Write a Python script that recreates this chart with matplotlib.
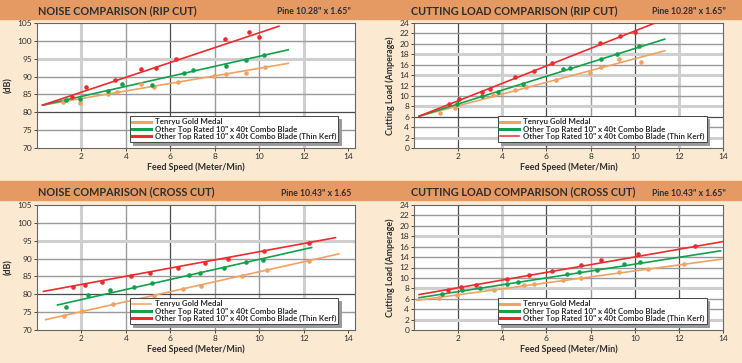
import matplotlib
matplotlib.use("Agg")
import matplotlib.pyplot as plt
from matplotlib.patches import Rectangle
from matplotlib.lines import Line2D

plt.rcParams["font.family"] = ["Lato", "DejaVu Sans"]

# ---- data ----
LABELS = ["Tenryu Gold Medal",
          "Other Top Rated 10\" x 40t Combo Blade",
          "Other Top Rated 10\" x 40t Combo Blade (Thin Kerf)"]

# noise, rip cut
nr_tenryu_x = [1.19, 1.93, 3.18, 3.59, 4.68, 5.27, 6.35, 7.94, 8.48, 9.39, 10.25]
nr_tenryu_y = [83.0, 82.5, 85.0, 85.6, 88.0, 87.0, 88.6, 90.1, 90.6, 91.0, 92.6]
nr_other_x = [1.30, 1.93, 3.18, 3.83, 5.15, 6.60, 7.00, 8.48, 9.39, 10.20]
nr_other_y = [83.5, 83.8, 86.1, 88.0, 87.6, 91.0, 91.8, 93.1, 94.6, 96.0]
nr_thin_x = [1.57, 2.19, 3.52, 4.68, 5.33, 6.26, 8.47, 9.52, 9.98]
nr_thin_y = [84.2, 87.0, 89.0, 92.0, 92.5, 95.0, 100.5, 102.5, 101.0]
nr_fit = {"tenryu": ([0.25, 11.3], [82.0, 93.7]),
          "other": ([0.25, 11.3], [82.0, 97.5]),
          "thin": ([0.25, 10.88], [82.0, 104.1])}

# cutting load, rip cut
lr_tenryu_x = [1.18, 1.86, 3.56, 4.57, 5.08, 6.44, 7.98, 8.45, 9.27, 10.27]
lr_tenryu_y = [6.8, 7.7, 10.1, 11.1, 11.7, 13.1, 14.4, 15.5, 17.1, 16.5]
lr_other_x = [1.94, 3.08, 3.79, 4.95, 6.76, 7.06, 8.45, 9.21, 10.21]
lr_other_y = [8.5, 10.0, 10.8, 12.3, 15.1, 15.3, 17.1, 18.1, 19.6]
lr_thin_x = [1.59, 2.05, 3.08, 3.45, 4.57, 5.45, 6.26, 8.42, 9.32, 10.0]
lr_thin_y = [8.36, 9.33, 10.8, 11.25, 13.6, 14.8, 16.3, 20.1, 21.55, 22.3]
lr_fit = {"tenryu": ([0.23, 11.36], [6.1, 18.66]),
          "other": ([0.23, 11.36], [6.1, 20.9]),
          "thin": ([0.23, 10.98], [6.1, 24.1])}

# noise, cross cut
nc_tenryu_x = [1.22, 2.02, 3.44, 4.74, 5.25, 6.58, 7.38, 9.22, 10.35, 12.24]
nc_tenryu_y = [74.0, 75.4, 77.2, 78.7, 79.6, 81.4, 82.4, 85.2, 86.8, 89.3]
nc_other_x = [1.30, 2.31, 3.29, 4.36, 5.15, 6.85, 7.34, 8.42, 9.39, 10.16]
nc_other_y = [76.4, 79.7, 81.3, 82.0, 83.2, 85.4, 86.1, 87.4, 89.0, 89.6]
nc_thin_x = [1.60, 2.16, 2.93, 4.24, 5.09, 6.35, 7.56, 8.57, 10.23, 12.21]
nc_thin_y = [82.1, 82.5, 83.4, 85.2, 86.1, 87.4, 88.9, 89.9, 92.0, 94.4]
nc_fit = {"tenryu": ([0.39, 13.57], [72.9, 91.3]),
          "other": ([0.92, 12.35], [77.0, 93.1]),
          "thin": ([0.29, 13.42], [80.8, 95.85])}

# cutting load, cross cut
lc_tenryu_x = [1.14, 1.97, 3.64, 5.0, 5.45, 6.77, 7.58, 9.29, 10.6, 12.24]
lc_tenryu_y = [6.2, 6.7, 7.7, 8.6, 8.8, 9.6, 10.05, 11.1, 11.8, 12.74]
lc_other_x = [1.26, 2.17, 3.0, 4.21, 4.73, 6.92, 7.47, 8.27, 9.52, 10.24]
lc_other_y = [6.85, 7.7, 8.1, 8.8, 9.2, 10.75, 11.2, 11.6, 12.6, 13.1]
lc_thin_x = [1.56, 2.15, 2.8, 4.2, 5.23, 6.26, 7.58, 8.48, 10.15, 12.73]
lc_thin_y = [7.74, 8.3, 8.7, 9.7, 10.6, 11.4, 12.4, 13.4, 14.6, 16.1]
lc_fit = {"tenryu": ([0.15, 13.94], [5.7, 13.6]),
          "other": ([0.23, 13.89], [6.2, 15.2]),
          "thin": ([0.23, 13.98], [6.8, 16.96])}

COL = {"tenryu": "#f0a263", "other": "#12a04b", "thin": "#ec2b2d"}
BG = "#fce9d2"
BAR = "#e59a64"
TXT = "#2e2e2e"

GRID = {"d": ("#4a4a4a", 0.9), "m": ("#9a9a9a", 1.0), "l": ("#cfcfcf", 2.2)}


def panel(ax, pts, fit, ylim, yticks, xgrid, ygrid, ylabel, leg_lw, xmax):
    ax.set_facecolor("white")
    for v, s in zip(range(2, 14, 2), xgrid):
        c, w = GRID[s]
        ax.axvline(v, color=c, lw=w, zorder=0)
    for v, s in zip(yticks[1:-1], ygrid):
        c, w = GRID[s]
        ax.axhline(v, color=c, lw=w, zorder=0)
    for key in ["tenryu", "other", "thin"]:
        fx, fy = fit[key]
        ax.plot(fx, fy, color=COL[key], lw=1.2, zorder=2)
        px, py = pts[key]
        ax.plot(px, py, "o", color=COL[key], ms=3.3, mec="none", zorder=3)
    ax.set_xlim(0, xmax)
    ax.set_ylim(*ylim)
    ax.set_xticks(range(2, 15, 2))
    ax.set_yticks(yticks)
    ax.tick_params(labelsize=6, length=2, width=0.6, pad=1.5, colors=TXT)
    for sp in ax.spines.values():
        sp.set_color("#666666")
        sp.set_linewidth(0.8)
    ax.set_xlabel("Feed Speed (Meter/Min)", fontsize=6.4, fontweight="bold",
                  color=TXT, labelpad=2)
    ax.set_ylabel(ylabel, fontsize=6.4, fontweight="bold", color=TXT,
                  labelpad=3)
    handles = [Line2D([], [], color=COL[k], lw=w)
               for k, w in zip(["tenryu", "other", "thin"], leg_lw)]
    leg = ax.legend(handles, LABELS, loc="lower right",
                    bbox_to_anchor=(0.947, 0.045),
                    prop={"size": 5.7, "weight": "bold"},
                    handlelength=2.4, handletextpad=0.5, labelspacing=0.05,
                    borderpad=0.25, borderaxespad=0, fancybox=False,
                    framealpha=1, edgecolor="#444444",
                    shadow={"color": "#9a9a9a", "alpha": 1})
    leg.get_frame().set_linewidth(0.7)
    for t in leg.get_texts():
        t.set_color(TXT)


fig = plt.figure(figsize=(7.42, 3.63), dpi=100)
fig.patch.set_facecolor(BG)

H = 363.0
W = 742.0
for top in (0, 181):
    fig.patches.append(Rectangle((0, 1 - (top + 19) / H), 1, 19 / H,
                                 transform=fig.transFigure,
                                 color=BAR, zorder=0))

ax_w_l = (355 - 37) / W
ax_w_r = (723 - 414) / W
ax_h = 125 / H
ax1 = fig.add_axes([37 / W, 1 - 148 / H, ax_w_l, ax_h])
ax2 = fig.add_axes([414 / W, 1 - 148 / H, ax_w_r, ax_h])
ax3 = fig.add_axes([37 / W, 1 - 330 / H, ax_w_l, ax_h])
ax4 = fig.add_axes([414 / W, 1 - 330 / H, ax_w_r, ax_h])

noise_ticks = list(range(70, 106, 5))
load_ticks = list(range(0, 25, 2))

panel(ax1,
      {"tenryu": (nr_tenryu_x, nr_tenryu_y), "other": (nr_other_x, nr_other_y),
       "thin": (nr_thin_x, nr_thin_y)},
      nr_fit, (70, 105), noise_ticks,
      "lmdmml", "mdmmlm", "(dB)", [2.2, 2.2, 2.2], 14.3)
panel(ax2,
      {"tenryu": (lr_tenryu_x, lr_tenryu_y), "other": (lr_other_x, lr_other_y),
       "thin": (lr_thin_x, lr_thin_y)},
      lr_fit, (0, 24), load_ticks,
      "dldmdl", "lmdlmmlmlmm", "Cutting Load (Amperage)", [2.2, 2.2, 1.1], 14.0)
panel(ax3,
      {"tenryu": (nc_tenryu_x, nc_tenryu_y), "other": (nc_other_x, nc_other_y),
       "thin": (nc_thin_x, nc_thin_y)},
      nc_fit, (70, 105), noise_ticks,
      "lmdmml", "mdmmlm", "(dB)", [1.1, 2.2, 2.2], 14.3)
panel(ax4,
      {"tenryu": (lc_tenryu_x, lc_tenryu_y), "other": (lc_other_x, lc_other_y),
       "thin": (lc_thin_x, lc_thin_y)},
      lc_fit, (0, 24), load_ticks,
      "dldmdd", "lmmlmmmmlmm", "Cutting Load (Amperage)", [2.2, 2.2, 2.2], 14.0)

# header titles
heads = [(38, 11, "NOISE COMPARISON (RIP CUT)", 351, "Pine 10.28\" x 1.65\""),
         (411, 11, "CUTTING LOAD COMPARISON (RIP CUT)", 726, "Pine 10.28\" x 1.65\""),
         (38, 192, "NOISE COMPARISON (CROSS CUT)", 351, "Pine 10.43\" x 1.65"),
         (411, 192, "CUTTING LOAD COMPARISON (CROSS CUT)", 726, "Pine 10.43\" x 1.65\"")]
for x, y, title, xr, sub in heads:
    fig.text(x / W, 1 - y / H, title, fontsize=7.8, fontweight="bold",
             color=TXT, va="center", ha="left")
    fig.text(xr / W, 1 - (y + 1) / H, sub, fontsize=6.2, fontweight="bold",
             color=TXT, va="center", ha="right")

fig.savefig("out.png", dpi=100, facecolor=BG)
